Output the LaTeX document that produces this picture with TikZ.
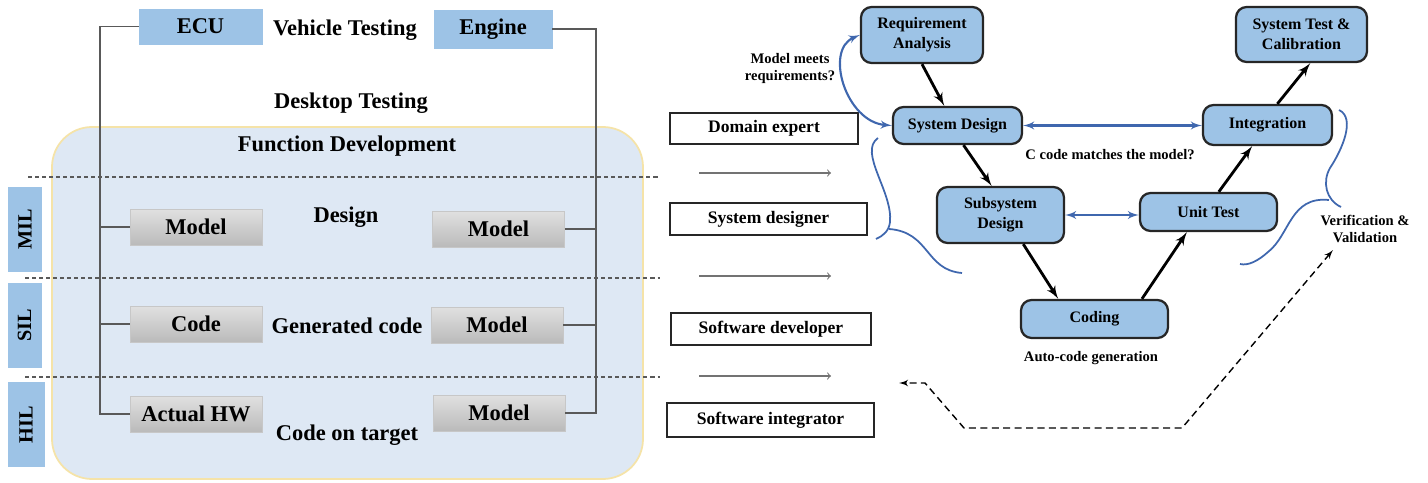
\documentclass[tikz,border=0pt]{standalone}
\usepackage{fontspec}
\setmainfont{Liberation Serif}
\usepackage{tikz}
\usetikzlibrary{arrows}
\definecolor{vblue}{HTML}{9DC3E6}
\definecolor{fdevfill}{HTML}{DEE8F4}
\definecolor{fdevedge}{HTML}{F5E3A8}
\definecolor{linkblue}{HTML}{3F67AE}
\definecolor{wiregray}{HTML}{595959}

\begin{document}
\begin{tikzpicture}[x=0.02cm,y=-0.02cm]
  \tikzset{
    bigtxt/.style={font=\fontsize{12.8}{15}\selectfont\bfseries},
    tagbox/.style={draw=vblue, fill=vblue, inner sep=0pt, bigtxt},
    lvl/.style={tagbox, rotate=90, minimum width=1.68cm, minimum height=0.66cm, font=\fontsize{11.5}{13}\selectfont\bfseries},
    blk/.style={draw=black!22, top color=black!12, bottom color=black!27, minimum width=2.64cm, minimum height=0.72cm, inner sep=0pt, bigtxt},
    role/.style={draw=black!85, fill=white, line width=0.8pt, inner sep=0pt, font=\fontsize{10}{12}\selectfont\bfseries},
    vnode/.style={draw=black!85, fill=vblue, line width=1.3pt, rounded corners=6pt, align=center, inner sep=0pt, font=\fontsize{9.1}{11.4}\selectfont\bfseries},
    note/.style={align=center, font=\fontsize{8.3}{9.6}\selectfont\bfseries},
    wire/.style={draw=wiregray, line width=0.8pt},
    hsep/.style={draw=wiregray, line width=0.7pt, dash pattern=on 2.3pt off 1.7pt},
    line/.style={draw, line width=1.6pt, -latex'},
    link/.style={draw=linkblue, line width=1.2pt, latex'-latex'},
    brace/.style={draw=linkblue, line width=1pt},
    hint/.style={draw=black!55, line width=0.6pt, -to},
    fback/.style={draw, line width=0.8pt, dash pattern=on 4pt off 2.5pt, latex'-latex'}
  }
  \useasboundingbox (0,0) rectangle (1428,483);

  % function development area
  \draw[draw=fdevedge, fill=fdevfill, line width=1pt, rounded corners=0.8cm] (52,127) rectangle (643,479);
  \draw[hsep] (28,177) -- (660,177);
  \draw[hsep] (25,278) -- (660,278);
  \draw[hsep] (25,377) -- (660,377);

  \node[tagbox, minimum width=2.46cm, minimum height=0.70cm] (ecu) at (200.5,26.5) {ECU};
  \node[tagbox, minimum width=2.36cm, minimum height=0.76cm] (engine) at (493,29) {Engine};
  \node[bigtxt] (vt) at (345,30) {Vehicle Testing};
  \node[bigtxt] (dt) at (351,103) {Desktop Testing};
  \node[bigtxt] (fd) at (347,146) {Function Development};

  \node[lvl] (mil) at (25,229) {MIL};
  \node[lvl] (sil) at (24.5,325.5) {SIL};
  \node[lvl, minimum height=0.72cm] (hil) at (26,424.5) {HIL};

  \node[blk] (mdla) at (196,227) {Model};
  \node[blk] (mdlb) at (498.5,229) {Model};
  \node[bigtxt] (dsg) at (346,217) {Design};
  \node[blk] (code) at (196,324) {Code};
  \node[blk] (mdlc) at (497,325) {Model};
  \node[bigtxt] (gen) at (347,326) {Generated code};
  \node[blk] (hw) at (196,414) {Actual HW};
  \node[blk] (mdld) at (499,413) {Model};
  \node[bigtxt] (tgt) at (347,435) {Code on target};

  \coordinate (lbus) at (100,414);
  \coordinate (rbus) at (596,413);
  \draw[wire] (ecu.west) -| (lbus) -- (hw.west);
  \draw[wire] (mdla.west) -- (mdla.west -| lbus);
  \draw[wire] (code.west) -- (code.west -| lbus);
  \draw[wire] (engine.east) -| (rbus) -- (mdld.east);
  \draw[wire] (mdlb.east) -- (mdlb.east -| rbus);
  \draw[wire] (mdlc.east) -- (mdlc.east -| rbus);

  % roles
  \node[role, minimum width=3.76cm, minimum height=0.62cm] (dom) at (764,128.5) {Domain expert};
  \node[role, minimum width=3.94cm, minimum height=0.64cm] (sdes) at (768.5,219) {System designer};
  \node[role, minimum width=4.0cm, minimum height=0.64cm] (sdev) at (771,329) {Software developer};
  \node[role, minimum width=4.14cm, minimum height=0.68cm] (sint) at (770.5,420) {Software integrator};
  \foreach \y/\n in {173/1,276/2,376/3} {
    \coordinate (ha\n) at (699,\y);
    \coordinate (hb\n) at (831,\y);
    \path[hint] (ha\n) -- (hb\n);
  }

  % V cycle
  \node[vnode, minimum width=2.44cm, minimum height=1.12cm] (req) at (922,35) {Requirement\\Analysis};
  \node[vnode, minimum width=2.58cm, minimum height=0.74cm] (sysd) at (957.5,125.5) {System Design};
  \node[vnode, minimum width=2.54cm, minimum height=1.12cm] (subd) at (1000.5,215) {Subsystem\\Design};
  \node[vnode, minimum width=2.94cm, minimum height=0.76cm] (cod) at (1094.5,319) {Coding};
  \node[vnode, minimum width=2.74cm, minimum height=0.76cm] (unit) at (1208.5,212) {Unit Test};
  \node[vnode, minimum width=2.58cm, minimum height=0.80cm] (integ) at (1267.5,125) {Integration};
  \node[vnode, minimum width=2.62cm, minimum height=1.10cm] (stc) at (1301.5,34.5) {System Test \&\\Calibration};

  \path[line] (req.south) -- (sysd.124);
  \path[line] (sysd.-73) -- (subd.107);
  \path[line] (subd.-52) -- (cod.151);
  \path[line] (cod.23) -- (unit.223);
  \path[line] (unit.63) -- (integ.-126);
  \path[line] (integ.65) -- (stc.-73);

  \path[link] (sysd.east) -- (sysd.east -| integ.west);
  \path[link] (subd.east) -- (subd.east -| unit.west);
  \path[link] (sysd.west) .. controls (846,122) and (824,50) .. (req.west);

  \node[note] (mmr) at (790,68.5) {Model meets\\requirements?};
  \node[note] (ccm) at (1110,155) {C code matches the model?};
  \node[note] (acg) at (1091,358) {Auto-code generation};
  \node[note] (vv) at (1365,229) {Verification \&\\Validation};

  % braces
  \draw[brace] (878,138) .. controls (858,152) and (893,192) .. (890,222) .. controls (889,231) and (883,236) .. (876,239);
  \draw[brace] (889,229) .. controls (930,232) and (925,270) .. (962,273);
  \draw[brace] (1339,110) .. controls (1356,118) and (1342,150) .. (1330,168) .. controls (1322,182) and (1326,200) .. (1341,207);
  \draw[brace] (1329,200) .. controls (1290,196) and (1290,235) .. (1268,252) .. controls (1258,261) and (1248,266) .. (1240,264);

  % feedback
  \coordinate (fbtip) at (1333,250);
  \coordinate (fb1) at (1182,428);
  \coordinate (fb2) at (964,428);
  \coordinate (fb3) at (925,383);
  \coordinate (fbend) at (899,383);
  \path[fback] (fbtip) -- (fb1) -- (fb2) -- (fb3) -- (fbend);
\end{tikzpicture}
\end{document}
